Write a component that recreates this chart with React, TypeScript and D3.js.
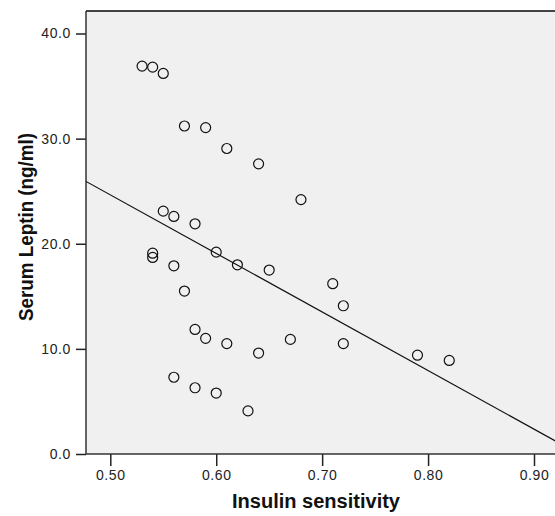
import React, { useRef, useEffect } from 'react';
import * as d3 from 'd3';

// Insulin sensitivity (x) vs serum leptin (y)
const insulin = [
  0.53, 0.54, 0.55, 0.57, 0.59, 0.61, 0.64, 0.68, 0.55, 0.56, 0.58,
  0.54, 0.54, 0.56, 0.57, 0.60, 0.62, 0.65, 0.71, 0.72, 0.72, 0.58,
  0.59, 0.61, 0.64, 0.67, 0.56, 0.58, 0.60, 0.63, 0.79, 0.82,
];
const leptin = [
  36.9, 36.8, 36.2, 31.2, 31.05, 29.06, 27.6, 24.2, 23.1, 22.6, 21.9,
  19.1, 18.7, 17.9, 15.5, 19.2, 18.0, 17.5, 16.2, 14.1, 10.5, 11.85,
  11.0, 10.5, 9.6, 10.9, 7.3, 6.3, 5.8, 4.1, 9.4, 8.9,
];
const xTicks = [0.5, 0.6, 0.7, 0.8, 0.9];
const yTicks = [0, 10, 20, 30, 40];
// fitted line: leptin = intercept + slope * insulin
const fitIntercept = 52.5;
const fitSlope = -55.7;

const ScatterChart = () => {
  const chartRef = useRef(null);

  useEffect(() => {
    const width = 555;
    const height = 516;
    const plot = { left: 86, top: 11, right: 557, bottom: 454 };

    d3.select(chartRef.current).selectAll('*').remove();

    const svg = d3
      .select(chartRef.current)
      .append('svg')
      .attr('width', width)
      .attr('height', height)
      .style('position', 'absolute')
      .style('left', '0px')
      .style('top', '0px')
      .style('background', '#fff');

    const x = d3.scaleLinear().domain([0.5, 0.9]).range([110.3, 534]);
    const y = d3.scaleLinear().domain([0, 40]).range([454, 33.5]);

    svg
      .append('defs')
      .append('clipPath')
      .attr('id', 'plotclip')
      .append('rect')
      .attr('x', plot.left)
      .attr('y', plot.top)
      .attr('width', plot.right - plot.left)
      .attr('height', plot.bottom - plot.top);

    // plot background
    svg
      .append('rect')
      .attr('x', plot.left)
      .attr('y', plot.top)
      .attr('width', plot.right - plot.left)
      .attr('height', plot.bottom - plot.top)
      .attr('fill', '#f0f0f0');

    // top frame line
    svg
      .append('line')
      .attr('x1', plot.left)
      .attr('x2', plot.right)
      .attr('y1', plot.top)
      .attr('y2', plot.top)
      .attr('stroke', '#444')
      .attr('stroke-width', 2);

    // X axis
    const xAxis = svg
      .append('g')
      .attr('transform', `translate(0,${plot.bottom})`)
      .call(
        d3
          .axisBottom(x)
          .tickValues(xTicks)
          .tickSize(12)
          .tickPadding(4)
          .tickFormat(d3.format('.2f'))
      );
    xAxis.select('.domain').remove();
    xAxis.selectAll('line').attr('stroke', '#222').attr('stroke-width', 1.5);
    xAxis.selectAll('text').attr('font-size', 14).attr('letter-spacing', 0.6).attr('fill', '#222');
    xAxis.attr('font-family', '"Liberation Sans", Arial, sans-serif');

    // Y axis
    const yAxis = svg
      .append('g')
      .attr('transform', `translate(${plot.left},0)`)
      .call(
        d3
          .axisLeft(y)
          .tickValues(yTicks)
          .tickSize(10)
          .tickPadding(5)
          .tickFormat(d3.format('.1f'))
      );
    yAxis.select('.domain').remove();
    yAxis.selectAll('line').attr('stroke', '#222').attr('stroke-width', 1.5);
    yAxis.selectAll('text').attr('font-size', 14).attr('letter-spacing', 0.6).attr('fill', '#222');
    yAxis.attr('font-family', '"Liberation Sans", Arial, sans-serif');

    // axis lines
    svg
      .append('line')
      .attr('x1', plot.left)
      .attr('x2', plot.right)
      .attr('y1', plot.bottom)
      .attr('y2', plot.bottom)
      .attr('stroke', '#333')
      .attr('stroke-width', 1.5);
    svg
      .append('line')
      .attr('x1', plot.left)
      .attr('x2', plot.left)
      .attr('y1', plot.top)
      .attr('y2', plot.bottom)
      .attr('stroke', '#333')
      .attr('stroke-width', 1.5);

    // Fit line
    const xMin = x.invert(plot.left);
    const xMax = x.invert(plot.right);
    svg
      .append('line')
      .attr('clip-path', 'url(#plotclip)')
      .attr('x1', x(xMin))
      .attr('y1', y(fitIntercept + fitSlope * xMin))
      .attr('x2', x(xMax))
      .attr('y2', y(fitIntercept + fitSlope * xMax))
      .attr('stroke', '#111')
      .attr('stroke-width', 1.2);

    // Points
    svg
      .selectAll('.pt')
      .data(insulin.map((v, i) => [v, leptin[i]]))
      .enter()
      .append('circle')
      .attr('class', 'pt')
      .attr('cx', (d) => x(d[0]))
      .attr('cy', (d) => y(d[1]))
      .attr('r', 5)
      .attr('fill', 'none')
      .attr('stroke', '#111')
      .attr('stroke-width', 1.2);

    // Axis titles
    svg
      .append('text')
      .attr('x', 316)
      .attr('y', 508)
      .attr('text-anchor', 'middle')
      .attr('font-family', '"Liberation Sans", Arial, sans-serif')
      .attr('font-weight', 'bold')
      .attr('font-size', 20)
      .attr('textLength', 168)
      .attr('lengthAdjust', 'spacingAndGlyphs')
      .attr('fill', '#111')
      .text('Insulin sensitivity');

    svg
      .append('text')
      .attr('transform', 'translate(33,227) rotate(-90)')
      .attr('text-anchor', 'middle')
      .attr('font-family', '"Liberation Sans", Arial, sans-serif')
      .attr('font-weight', 'bold')
      .attr('font-size', 20)
      .attr('textLength', 188)
      .attr('lengthAdjust', 'spacingAndGlyphs')
      .attr('fill', '#111')
      .text('Serum Leptin (ng/ml)');
  }, []);

  return <div ref={chartRef}></div>;
};

export default function App() {
  return <ScatterChart />;
}
